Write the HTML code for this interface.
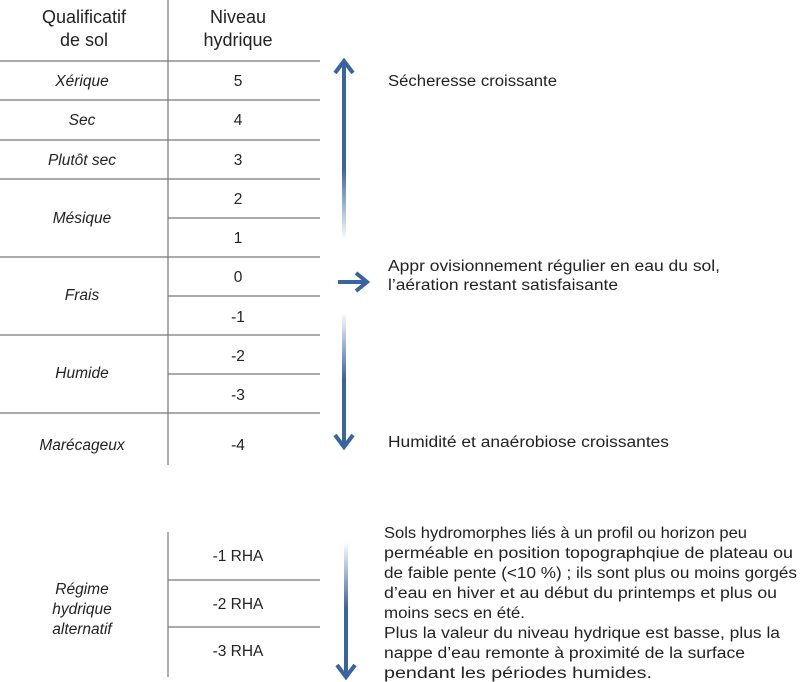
<!DOCTYPE html>
<html><head><meta charset="utf-8"><style>
html,body{margin:0;padding:0;background:#fff;}
svg{display:block;}
text{font-family:"Liberation Sans",sans-serif;fill:#222;}
.h{font-size:18px;text-anchor:middle;}
.i{font-size:15.5px;font-style:italic;text-anchor:middle;}
.n{font-size:15.5px;text-anchor:middle;}
.r{font-size:15.5px;}
</style></head><body>
<svg width="800" height="682" viewBox="0 0 800 682" xmlns="http://www.w3.org/2000/svg">
<defs>
<linearGradient id="gu" x1="0" y1="0" x2="0" y2="1"><stop offset="0" stop-color="#3a64a0"/><stop offset="0.6" stop-color="#3a64a0"/><stop offset="1" stop-color="#3a64a0" stop-opacity="0"/></linearGradient>
<linearGradient id="gd" x1="0" y1="1" x2="0" y2="0"><stop offset="0" stop-color="#3a64a0"/><stop offset="0.5" stop-color="#3a64a0"/><stop offset="1" stop-color="#3a64a0" stop-opacity="0"/></linearGradient>
</defs>
<g stroke="#777" stroke-width="1.2">
<line x1="168" y1="0" x2="168" y2="465"/>
<line x1="0" y1="61" x2="320" y2="61"/>
<line x1="0" y1="100" x2="320" y2="100"/>
<line x1="0" y1="140" x2="320" y2="140"/>
<line x1="0" y1="179" x2="320" y2="179"/>
<line x1="168" y1="218" x2="320" y2="218"/>
<line x1="0" y1="257" x2="320" y2="257"/>
<line x1="168" y1="296" x2="320" y2="296"/>
<line x1="0" y1="335" x2="320" y2="335"/>
<line x1="168" y1="374" x2="320" y2="374"/>
<line x1="0" y1="413" x2="320" y2="413"/>
<line x1="168" y1="532" x2="168" y2="677"/>
<line x1="168" y1="580" x2="320" y2="580"/>
<line x1="168" y1="627" x2="320" y2="627"/>
</g>
<text class="h" x="84" y="23">Qualificatif</text>
<text class="h" x="84" y="46">de sol</text>
<text class="h" x="238" y="23">Niveau</text>
<text class="h" x="238" y="46">hydrique</text>
<text class="i" x="82" y="86">Xérique</text>
<text class="i" x="82" y="125">Sec</text>
<text class="i" x="82" y="165">Plutôt sec</text>
<text class="i" x="82" y="223">Mésique</text>
<text class="i" x="82" y="300">Frais</text>
<text class="i" x="82" y="378">Humide</text>
<text class="i" x="82" y="450">Marécageux</text>
<text class="n" x="238" y="86">5</text>
<text class="n" x="238" y="125">4</text>
<text class="n" x="238" y="165">3</text>
<text class="n" x="238" y="204">2</text>
<text class="n" x="238" y="243">1</text>
<text class="n" x="238" y="282">0</text>
<text class="n" x="238" y="322">-1</text>
<text class="n" x="238" y="361">-2</text>
<text class="n" x="238" y="400">-3</text>
<text class="n" x="238" y="450">-4</text>
<text class="i" x="82" y="594">Régime</text>
<text class="i" x="82" y="614">hydrique</text>
<text class="i" x="82" y="634">alternatif</text>
<text class="n" x="238" y="561">-1 RHA</text>
<text class="n" x="238" y="609">-2 RHA</text>
<text class="n" x="238" y="656">-3 RHA</text>
<!-- arrows -->
<rect x="342" y="62" width="4" height="178" fill="url(#gu)"/>
<polyline points="335,73 344,61 353,73" fill="none" stroke="#3a64a0" stroke-width="4"/>
<rect x="342" y="312" width="4" height="134" fill="url(#gd)"/>
<polyline points="335,435 344,447 353,435" fill="none" stroke="#3a64a0" stroke-width="4"/>
<line x1="338" y1="282" x2="366" y2="282" stroke="#3a64a0" stroke-width="4"/>
<polyline points="356,273 367,282 356,291" fill="none" stroke="#3a64a0" stroke-width="4"/>
<rect x="344" y="542" width="4" height="132" fill="url(#gd)"/>
<polyline points="337,665 346,677 355,665" fill="none" stroke="#3a64a0" stroke-width="4"/>
<text class="r" x="388" y="86" textLength="169" lengthAdjust="spacingAndGlyphs">Sécheresse croissante</text>
<text class="r" x="388" y="271" textLength="332" lengthAdjust="spacingAndGlyphs">Appr ovisionnement régulier en eau du sol,</text>
<text class="r" x="388" y="290" textLength="230" lengthAdjust="spacingAndGlyphs">l’aération restant satisfaisante</text>
<text class="r" x="388" y="447" textLength="281" lengthAdjust="spacingAndGlyphs">Humidité et anaérobiose croissantes</text>
<text class="r" x="384" y="538" textLength="363" lengthAdjust="spacingAndGlyphs">Sols hydromorphes liés à un profil ou horizon peu</text>
<text class="r" x="384" y="558" textLength="409" lengthAdjust="spacingAndGlyphs">perméable en position topographqiue de plateau ou</text>
<text class="r" x="384" y="578" textLength="413" lengthAdjust="spacingAndGlyphs">de faible pente (&lt;10 %) ; ils sont plus ou moins gorgés</text>
<text class="r" x="384" y="598" textLength="393" lengthAdjust="spacingAndGlyphs">d’eau en hiver et au début du printemps et plus ou</text>
<text class="r" x="384" y="618" textLength="141" lengthAdjust="spacingAndGlyphs">moins secs en été.</text>
<text class="r" x="384" y="638" textLength="396" lengthAdjust="spacingAndGlyphs">Plus la valeur du niveau hydrique est basse, plus la</text>
<text class="r" x="384" y="658" textLength="361" lengthAdjust="spacingAndGlyphs">nappe d’eau remonte à proximité de la surface</text>
<text class="r" x="384" y="678" textLength="268" lengthAdjust="spacingAndGlyphs">pendant les périodes humides.</text>
</svg>
</body></html>
